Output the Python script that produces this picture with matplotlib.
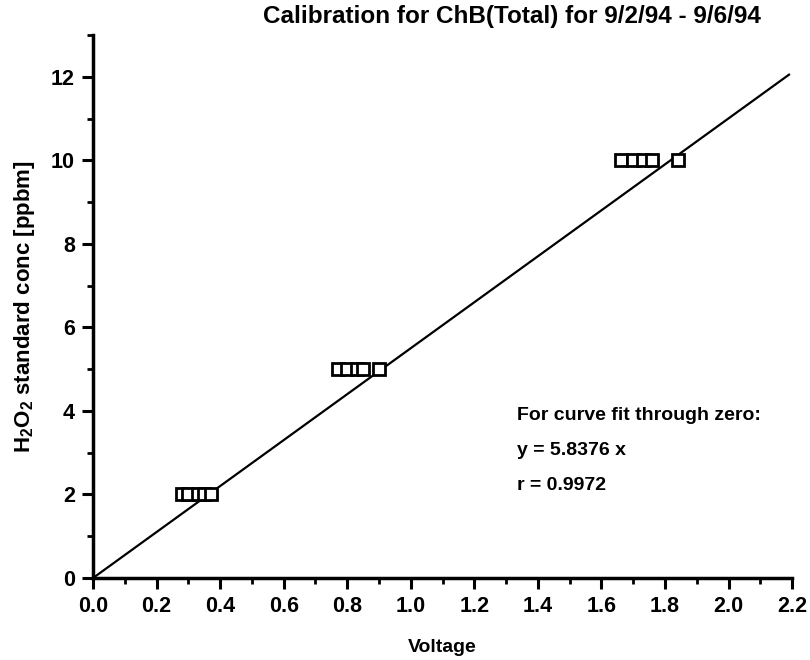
import matplotlib
matplotlib.use("Agg")
import matplotlib.pyplot as plt
from matplotlib.ticker import MultipleLocator

# Data
voltage = [0.28, 0.30, 0.33, 0.35, 0.37,
           0.77, 0.80, 0.83, 0.85, 0.90,
           1.66, 1.70, 1.73, 1.76, 1.84]
conc = [2, 2, 2, 2, 2,
        5, 5, 5, 5, 5,
        10, 10, 10, 10, 10]
fit_x = [0.0, 2.19]
fit_y = [0.0, 12.05]

title = "Calibration for ChB(Total) for 9/2/94 - 9/6/94"
xlabel = "Voltage"
ylabel = r"H$_2$O$_2$ standard conc [ppbm]"
note_lines = ["For curve fit through zero:", "y = 5.8376 x", "r = 0.9972"]
note_y = [3.90, 3.06, 2.22]

plt.rcParams['font.family'] = ['Liberation Sans', 'DejaVu Sans']
plt.rcParams['mathtext.fontset'] = 'custom'
plt.rcParams['mathtext.rm'] = 'Liberation Sans:bold'
plt.rcParams['mathtext.it'] = 'Liberation Sans:bold'
plt.rcParams['mathtext.bf'] = 'Liberation Sans:bold'

fig = plt.figure(figsize=(8.1, 6.6), dpi=100)
ax = fig.add_axes([0.1148, 0.1242, 0.978 - 0.1148, 0.947 - 0.1242])

ax.plot(fit_x, fit_y, color='black', lw=1.6)
ax.plot(voltage, conc, linestyle='none', marker='s', markersize=9,
        markerfacecolor='white', markeredgecolor='black', markeredgewidth=2)

ax.set_xlim(0, 2.2)
ax.set_ylim(0, 13)
ax.xaxis.set_major_locator(MultipleLocator(0.2))
ax.xaxis.set_minor_locator(MultipleLocator(0.1))
ax.yaxis.set_major_locator(MultipleLocator(2))
ax.yaxis.set_minor_locator(MultipleLocator(1))
ax.set_xticklabels([f"{v:.1f}" for v in ax.get_xticks()])

for s in ['top', 'right']:
    ax.spines[s].set_visible(False)
for s in ['left', 'bottom']:
    ax.spines[s].set_linewidth(2.5)

ax.tick_params(which='major', direction='out', length=8, width=2.2,
               labelsize=15.5, pad=5)
ax.tick_params(which='minor', direction='out', length=4, width=2)
for lab in ax.get_xticklabels() + ax.get_yticklabels():
    lab.set_fontweight('bold')

ax.set_xlabel(xlabel, fontsize=14, fontweight='bold', labelpad=16)
ax.set_ylabel(ylabel, fontsize=16, fontweight='bold', labelpad=10)

fig.text(512 / 810, 1 - 16 / 660, title, ha='center', va='center',
         fontsize=17.5, fontweight='bold')

for line, yv in zip(note_lines, note_y):
    ax.text(1.335, yv, line, fontsize=14, fontweight='bold',
            ha='left', va='center')

fig.savefig("out.png", dpi=100)
